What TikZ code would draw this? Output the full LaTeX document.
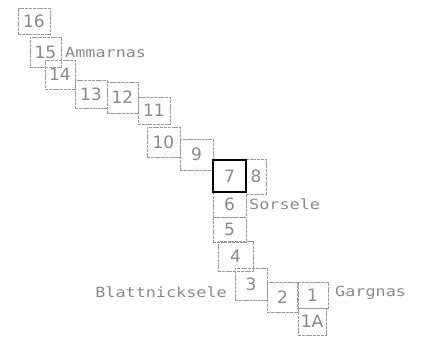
\documentclass[tikz,border=0pt]{standalone}
\usepackage{fontspec}
\newfontfamily\lblfont{DejaVu Sans Mono}[FakeStretch=1.2]
\newfontfamily\numfont{DejaVu Sans}
\definecolor{ink}{HTML}{8A8A8A}
\definecolor{edge}{HTML}{9A9A9A}
\begin{document}
\begin{tikzpicture}[x=1pt,y=-1pt,
  cell/.style={draw=edge, line width=0.7pt, dash pattern=on 3pt off 0.8pt,
    inner sep=0pt, text=ink, font=\numfont\fontsize{17}{17}\selectfont},
  bold cell/.style={draw=black, line width=1.4pt, inner sep=0pt, text=ink,
    font=\numfont\fontsize{17}{17}\selectfont},
  lbl/.style={inner sep=0pt, text=ink, font=\lblfont\fontsize{14}{14}\selectfont}]
\useasboundingbox (0,0) rectangle (430,338);
\node[cell, minimum width=32, minimum height=26] (b16) at (34,21) {16};
\node[cell, minimum width=31, minimum height=30] (b15) at (45.5,52) {15};
\node[cell, minimum width=30, minimum height=29] (b14) at (60,74.5) {14};
\node[cell, minimum width=32, minimum height=28] (b13) at (91,94) {13};
\node[cell, minimum width=31, minimum height=31] (b12) at (122.5,97.5) {12};
\node[cell, minimum width=32, minimum height=27] (b11) at (154,110.5) {11};
\node[cell, minimum width=33, minimum height=30] (b10) at (163.5,142) {10};
\node[cell, minimum width=33, minimum height=31] (b9) at (196.5,154.5) {9};
\node[cell, minimum width=20, minimum height=35] (b8) at (256,176.5) {8};
\node[cell, minimum width=33, minimum height=25] (b6) at (229.5,204.5) {6};
\node[cell, minimum width=33, minimum height=25] (b5) at (229.5,229.5) {5};
\node[cell, minimum width=35, minimum height=30] (b4) at (235.5,256) {4};
\node[cell, minimum width=32, minimum height=32] (b3) at (251,284) {3};
\node[cell, minimum width=31, minimum height=30] (b2) at (282.5,297) {2};
\node[cell, minimum width=31, minimum height=26] (b1) at (312.5,295) {1};
\node[cell, minimum width=28, minimum height=27] (b1A) at (312,321.5) {1A};
\node[bold cell, minimum width=33, minimum height=32] (b7) at (229.5,176) {7};
\node[lbl, anchor=west] (ammarnas) at (65,52) {Ammarnas};
\node[lbl, anchor=west] (sorsele) at (249,204) {Sorsele};
\node[lbl, anchor=east] (blatt) at (227,292) {Blattnicksele};
\node[lbl, anchor=west] (gargnas) at (335,293) {Gargnas};
\end{tikzpicture}
\end{document}
